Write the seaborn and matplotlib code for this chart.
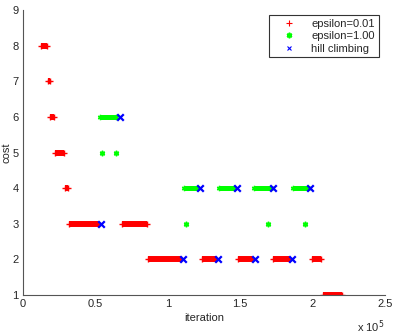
# Cost over iterations: two epsilon settings against plain hill climbing.
import matplotlib

matplotlib.use("Agg")
import matplotlib.pyplot as plt
import pandas as pd
import seaborn as sns
from matplotlib.lines import Line2D
from matplotlib.ticker import FuncFormatter

# runs of iterations spent at one cost: start, end, cost
red_start = [12200, 17000, 19000, 21800, 28700, 31800, 68500, 86200, 123500, 148700, 172800, 199500, 207500]
red_end = [16300, 18500, 21300, 28500, 31000, 51500, 85500, 109000, 133500, 158200, 183800, 206200, 220500]
red_cost = [8, 7, 6, 5, 4, 3, 3, 2, 2, 2, 2, 2, 1]

green_start = [53500, 54300, 64100, 111200, 112400, 135200, 159700, 169000, 186600, 194500]
green_end = [64500, 54300, 64100, 120500, 112400, 145800, 171000, 169000, 197000, 194500]
green_cost = [6, 5, 5, 4, 3, 4, 4, 3, 4, 3]

hill_iter = [53600, 66900, 110800, 122500, 134700, 147800, 160000, 172600, 185700, 198600]
hill_cost = [3, 6, 2, 4, 2, 4, 2, 4, 2, 4]


def runs_frame(starts, ends, costs):
    rows = []
    for i, (s, e, c) in enumerate(zip(starts, ends, costs)):
        rows.append({"run": i, "iteration": s, "cost": c})
        rows.append({"run": i, "iteration": e, "cost": c})
    return pd.DataFrame(rows)


red = runs_frame(red_start, red_end, red_cost)
green = runs_frame(green_start, green_end, green_cost)

sns.set_theme(style="white")
plt.rcParams["font.family"] = ["Liberation Sans", "DejaVu Sans"]
plt.rcParams["font.size"] = 8

fig = plt.figure(figsize=(4.03, 3.35), dpi=100)
ax = fig.add_axes([0.057, 0.119, 0.898, 0.851])

sns.lineplot(data=red, x="iteration", y="cost", units="run", estimator=None, sort=False,
             color="#ff0000", lw=4.3, marker="+", markersize=4.6, mew=1.0, mec="#ff0000",
             solid_capstyle="butt", legend=False, ax=ax)
sns.lineplot(data=green, x="iteration", y="cost", units="run", estimator=None, sort=False,
             color="#00ff00", lw=3.6, marker=(6, 2, 0), markersize=3.8, mew=1.0, mec="#00ff00",
             solid_capstyle="butt", legend=False, ax=ax)
sns.scatterplot(x=hill_iter, y=hill_cost, marker="x", s=22, color="#0000ff",
                linewidth=1.6, legend=False, ax=ax, zorder=5)

ax.set_xlim(0, 250000)
ax.set_ylim(1, 9)
ax.set_xticks(range(0, 250001, 50000))
ax.set_yticks(range(1, 10))
ax.xaxis.set_major_formatter(FuncFormatter(lambda v, _: f"{v / 1e5:g}"))
ax.tick_params(direction="in", length=3, width=0.8, colors="#404040", labelsize=8,
               labelcolor="#262626", pad=3)
for side in ("top", "right"):
    ax.spines[side].set_visible(False)
for side in ("left", "bottom"):
    ax.spines[side].set_color("#555555")
    ax.spines[side].set_linewidth(0.8)

ax.set_xlabel("iteration", fontsize=8, color="#262626", labelpad=3)
ax.set_ylabel("cost", fontsize=8, color="#262626", labelpad=1)
ax.text(1.0, -0.083, r"x 10$^5$", transform=ax.transAxes, ha="right", va="top",
        fontsize=8, color="#262626")

handles = [
    Line2D([], [], ls="none", marker="+", color="#ff0000", markersize=5, mew=0.8),
    Line2D([], [], ls="none", marker=(6, 2, 0), color="#00ff00", markersize=4, mew=1.2),
    Line2D([], [], ls="none", marker="x", color="#0000ff", markersize=3.5, mew=0.8),
]
leg = ax.legend(handles, ["epsilon=0.01", "epsilon=1.00", "hill climbing"],
                loc="upper right", bbox_to_anchor=(0.983, 0.982), borderaxespad=0,
                fontsize=8, frameon=True, fancybox=False, edgecolor="#333333", framealpha=1,
                handlelength=3.0, handletextpad=0.5, labelspacing=0.2, borderpad=0.35)
leg.get_frame().set_linewidth(0.8)

plt.savefig("out.png", dpi=100)
